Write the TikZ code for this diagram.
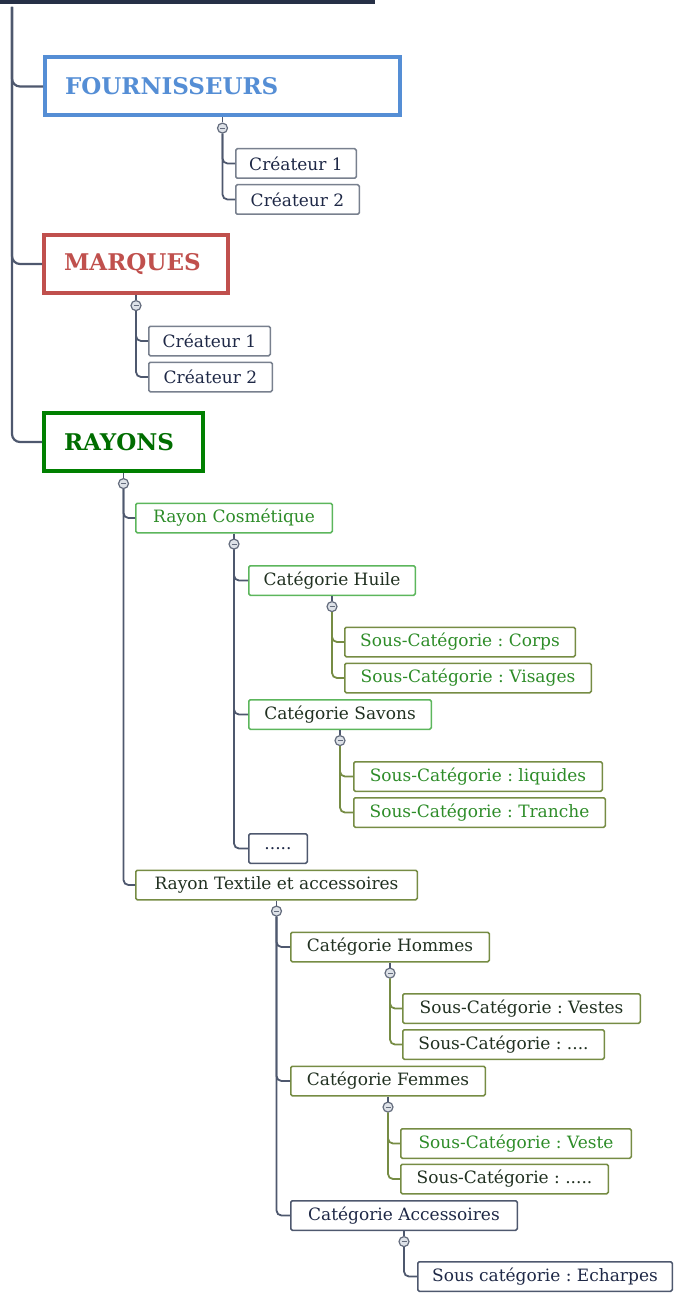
\documentclass[tikz,border=0pt]{standalone}
\usepackage{fontspec}
\setmainfont{DejaVu Serif}
\usetikzlibrary{positioning}
\frenchspacing

\definecolor{FournBlue}{RGB}{85,142,213}
\definecolor{MarqRed}{RGB}{192,80,77}
\definecolor{RayGreen}{RGB}{0,128,0}
\definecolor{LightGreen}{RGB}{92,182,92}
\definecolor{Olive}{RGB}{118,140,68}
\definecolor{NavyLine}{RGB}{78,88,110}
\definecolor{GreyBox}{RGB}{120,128,142}
\definecolor{TextGreen}{RGB}{45,140,40}
\definecolor{TextDark}{RGB}{32,48,32}
\definecolor{TextNavy}{RGB}{30,40,70}
\definecolor{RootLine}{RGB}{38,48,70}
\definecolor{RootFill}{RGB}{110,120,140}
\definecolor{ToggleFill}{RGB}{222,226,232}
\definecolor{ToggleLine}{RGB}{100,108,125}

\begin{document}
\begin{tikzpicture}[x=1pt,y=-1pt,
    every node/.style={font=\fontsize{17}{20}\selectfont},
    head/.style={anchor=west,draw,line width=4pt,minimum height=58pt,inner xsep=20pt,align=left,font=\fontsize{23}{27}\selectfont\bfseries},
    box/.style={anchor=west,draw,line width=1.5pt,minimum height=29.5pt,inner xsep=2pt,rounded corners=1.5pt},
    greybox/.style={box,draw=GreyBox,text=TextNavy},
    navybox/.style={box,draw=NavyLine,text=TextNavy},
    greenbox/.style={box,draw=LightGreen},
    olivebox/.style={box,draw=Olive},
    toggle/.style={circle,draw=ToggleLine,fill=ToggleFill,line width=1.2pt,minimum size=10pt,inner sep=0pt,
      path picture={\draw[ToggleLine,line width=1pt] ([xshift=-2.5pt]path picture bounding box.center) -- ([xshift=2.5pt]path picture bounding box.center);}},
    link/.style={draw=NavyLine,line width=1.8pt,rounded corners=5pt},
    oLink/.style={draw=Olive,line width=1.8pt,rounded corners=5pt}]

    \useasboundingbox (0,0) rectangle (677,1297);

    % root, cut off by the top edge
    \node[draw=RootLine,fill=RootFill,line width=6pt,minimum width=420pt,minimum height=60pt,anchor=south east] (ROOT) at (375,4) {};
    \coordinate (TRUNK) at (12,7);

    \node[head,draw=FournBlue,text=FournBlue,minimum width=355pt,text width=315pt] (FOURN) at (43,86.5) {FOURNISSEURS};
    \node[head,draw=MarqRed,text=MarqRed,minimum width=184pt,text width=144pt] (MARQ) at (42,264) {MARQUES};
    \node[head,draw=RayGreen,text=RayGreen!85!black,minimum width=159pt,text width=119pt] (RAYONS) at (42,442) {RAYONS};

    \node[greybox,minimum width=120.5pt] (FC1) at (235,163.5) {Créateur 1};
    \node[greybox,minimum width=123.5pt] (FC2) at (235,199.5) {Créateur 2};
    \node[greybox,minimum width=121.5pt] (MC1) at (148,341) {Créateur 1};
    \node[greybox,minimum width=123.5pt] (MC2) at (148,377) {Créateur 2};

    \node[greenbox,text=TextGreen,minimum width=196.5pt] (COSM) at (135,518) {Rayon Cosmétique};
    \node[greenbox,text=TextDark,minimum width=166.5pt] (HUILE) at (248,580.5) {Catégorie Huile};
    \node[olivebox,text=TextGreen,minimum width=230.5pt] (CORPS) at (344,642) {Sous-Catégorie : Corps};
    \node[olivebox,text=TextGreen,minimum width=246.5pt] (VISAGES) at (344,678) {Sous-Catégorie : Visages};
    \node[greenbox,text=TextDark,minimum width=182.5pt] (SAVONS) at (248,714.5) {Catégorie Savons};
    \node[olivebox,text=TextGreen,minimum width=248.5pt] (LIQUIDES) at (353,776.5) {Sous-Catégorie : liquides};
    \node[olivebox,text=TextGreen,minimum width=251.5pt] (TRANCHE) at (353,812.5) {Sous-Catégorie : Tranche};
    \node[navybox,minimum width=58.5pt] (DOTS) at (248,848.5) {.....};

    \node[olivebox,text=TextDark,minimum width=281.5pt] (TEXTILE) at (135,885) {Rayon Textile et accessoires};
    \node[olivebox,text=TextDark,minimum width=198.5pt] (HOMMES) at (290,947) {Catégorie Hommes};
    \node[olivebox,text=TextDark,minimum width=237.5pt] (VESTES) at (402,1008.5) {Sous-Catégorie : Vestes};
    \node[olivebox,text=TextDark,minimum width=201.5pt] (HDOTS) at (402,1044.5) {Sous-Catégorie : ....};
    \node[olivebox,text=TextDark,minimum width=194.5pt] (FEMMES) at (290,1081) {Catégorie Femmes};
    \node[olivebox,text=TextGreen,minimum width=230.5pt] (VESTE) at (400,1143.5) {Sous-Catégorie : Veste};
    \node[olivebox,text=TextDark,minimum width=207.5pt] (FDOTS) at (400,1179) {Sous-Catégorie : .....};
    \node[navybox,minimum width=226.5pt] (ACCESS) at (290,1215.5) {Catégorie Accessoires};
    \node[navybox,minimum width=254.5pt] (ECHARPES) at (417,1276.5) {Sous catégorie : Echarpes};

    % collapse buttons
    \foreach \p/\t in {FOURN/TF,MARQ/TM,RAYONS/TR,COSM/TC,HUILE/TH,SAVONS/TS,TEXTILE/TT,HOMMES/THO,FEMMES/TFE,ACCESS/TA} {
      \node[toggle] (\t) [below=5pt of \p] {};
      \path[link,line width=1.2pt] (\p.south) -- (\t.north);
    }

    \foreach \c in {FOURN,MARQ,RAYONS}
      \path[link,line width=2.2pt,rounded corners=8pt] (TRUNK) |- (\c.west);
    \foreach \t/\c in {TF/FC1,TF/FC2,TM/MC1,TM/MC2,TR/COSM,TR/TEXTILE,TC/HUILE,TC/SAVONS,TC/DOTS,TT/HOMMES,TT/FEMMES,TT/ACCESS,TA/ECHARPES}
      \path[link] (\t.south) |- (\c.west);
    \foreach \t/\c in {TH/CORPS,TH/VISAGES,TS/LIQUIDES,TS/TRANCHE,THO/VESTES,THO/HDOTS,TFE/VESTE,TFE/FDOTS}
      \path[oLink] (\t.south) |- (\c.west);
  \end{tikzpicture}
\end{document}
